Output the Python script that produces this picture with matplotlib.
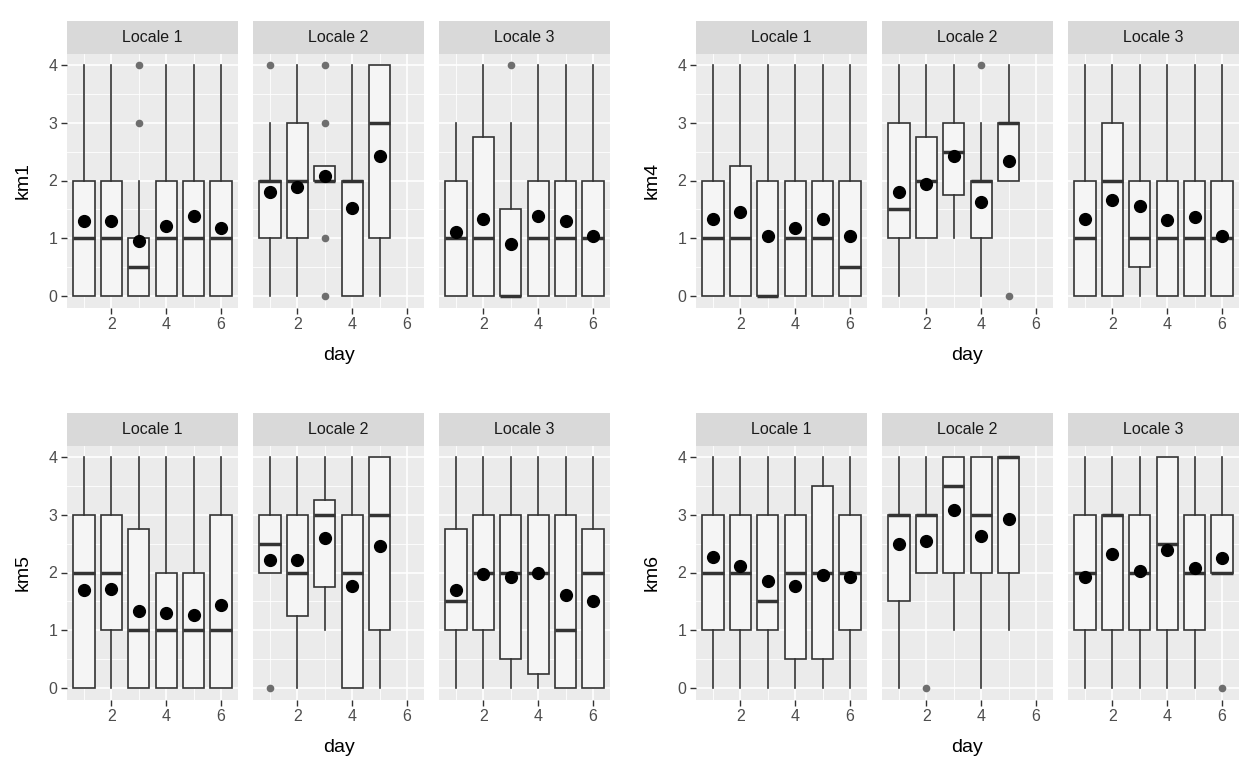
import numpy as np
import matplotlib
matplotlib.use("Agg")
import matplotlib.pyplot as plt
from matplotlib.ticker import FixedLocator

plt.rcParams['font.family'] = ['Liberation Sans', 'DejaVu Sans']

days = [1, 2, 3, 4, 5, 6]
locales = ['Locale 1', 'Locale 2', 'Locale 3']
variables = ['km1', 'km4', 'km5', 'km6']

# each box: whisker low, q1, median, q3, whisker high, mean
km1_loc1 = [(0, 0, 1, 2, 4, 1.29), (0, 0, 1, 2, 4, 1.29), (0, 0, 0.5, 1, 2, 0.96),
            (0, 0, 1, 2, 4, 1.21), (0, 0, 1, 2, 4, 1.39), (0, 0, 1, 2, 4, 1.17)]
km1_loc1_out = [[], [], [3, 4], [], [], []]
km1_loc2 = [(0, 1, 2, 2, 3, 1.80), (0, 1, 2, 3, 4, 1.88), (2, 2, 2, 2.25, 2.25, 2.08),
            (0, 0, 2, 2, 4, 1.52), (0, 1, 3, 4, 4, 2.43)]
km1_loc2_out = [[4], [], [0, 1, 3, 4], [], []]
km1_loc3 = [(0, 0, 1, 2, 3, 1.11), (0, 0, 1, 2.75, 4, 1.34), (0, 0, 0, 1.5, 3, 0.90),
            (0, 0, 1, 2, 4, 1.39), (0, 0, 1, 2, 4, 1.29), (0, 0, 1, 2, 4, 1.04)]
km1_loc3_out = [[], [], [4], [], [], []]

km4_loc1 = [(0, 0, 1, 2, 4, 1.34), (0, 0, 1, 2.25, 4, 1.46), (0, 0, 0, 2, 4, 1.04),
            (0, 0, 1, 2, 4, 1.17), (0, 0, 1, 2, 4, 1.34), (0, 0, 0.5, 2, 4, 1.04)]
km4_loc1_out = [[], [], [], [], [], []]
km4_loc2 = [(0, 1, 1.5, 3, 4, 1.80), (1, 1, 2, 2.75, 4, 1.94), (1, 1.75, 2.5, 3, 4, 2.42),
            (0, 1, 2, 2, 3, 1.62), (2, 2, 3, 3, 4, 2.33)]
km4_loc2_out = [[], [], [], [4], [0]]
km4_loc3 = [(0, 0, 1, 2, 4, 1.34), (0, 0, 2, 3, 4, 1.66), (0, 0.5, 1, 2, 4, 1.56),
            (0, 0, 1, 2, 4, 1.32), (0, 0, 1, 2, 4, 1.36), (0, 0, 1, 2, 4, 1.04)]
km4_loc3_out = [[], [], [], [], [], []]

km5_loc1 = [(0, 0, 2, 3, 4, 1.69), (0, 1, 2, 3, 4, 1.72), (0, 0, 1, 2.75, 4, 1.34),
            (0, 0, 1, 2, 4, 1.29), (0, 0, 1, 2, 4, 1.26), (0, 0, 1, 3, 4, 1.44)]
km5_loc1_out = [[], [], [], [], [], []]
km5_loc2 = [(2, 2, 2.5, 3, 4, 2.21), (0, 1.25, 2, 3, 4, 2.21), (1, 1.75, 3, 3.25, 4, 2.59),
            (0, 0, 2, 3, 4, 1.76), (0, 1, 3, 4, 4, 2.46)]
km5_loc2_out = [[0], [], [], [], []]
km5_loc3 = [(0, 1, 1.5, 2.75, 4, 1.69), (0, 1, 2, 3, 4, 1.97), (0, 0.5, 2, 3, 4, 1.92),
            (0, 0.25, 2, 3, 4, 2.00), (0, 0, 1, 3, 4, 1.61), (0, 0, 2, 2.75, 4, 1.51)]
km5_loc3_out = [[], [], [], [], [], []]

km6_loc1 = [(0, 1, 2, 3, 4, 2.27), (0, 1, 2, 3, 4, 2.11), (0, 1, 1.5, 3, 4, 1.85),
            (0, 0.5, 2, 3, 4, 1.77), (0, 0.5, 2, 3.5, 4, 1.95), (0, 1, 2, 3, 4, 1.92)]
km6_loc1_out = [[], [], [], [], [], []]
km6_loc2 = [(0, 1.5, 3, 3, 4, 2.49), (2, 2, 3, 3, 4, 2.55), (1, 2, 3.5, 4, 4, 3.09),
            (0, 2, 3, 4, 4, 2.64), (1, 2, 4, 4, 4, 2.92)]
km6_loc2_out = [[], [0], [], [], []]
km6_loc3 = [(0, 1, 2, 3, 4, 1.92), (0, 1, 3, 3, 4, 2.32), (0, 1, 2, 3, 4, 2.03),
            (0, 1, 2.5, 4, 4, 2.39), (0, 1, 2, 3, 4, 2.07), (2, 2, 2, 3, 4, 2.25)]
km6_loc3_out = [[], [], [], [], [], [0]]

y_ticks = [0, 1, 2, 3, 4]
x_ticks = [2, 4, 6]

panels = {
    'km1': [(km1_loc1, km1_loc1_out), (km1_loc2, km1_loc2_out), (km1_loc3, km1_loc3_out)],
    'km4': [(km4_loc1, km4_loc1_out), (km4_loc2, km4_loc2_out), (km4_loc3, km4_loc3_out)],
    'km5': [(km5_loc1, km5_loc1_out), (km5_loc2, km5_loc2_out), (km5_loc3, km5_loc3_out)],
    'km6': [(km6_loc1, km6_loc1_out), (km6_loc2, km6_loc2_out), (km6_loc3, km6_loc3_out)],
}

W, H = 1239, 766
fig = plt.figure(figsize=(W / 100, H / 100), dpi=100)


def px_axes(left, top, width, height):
    return fig.add_axes([left / W, 1 - (top + height) / H, width / W, height / H])


def draw_facet(ax, boxes, outliers, show_y):
    stats = []
    for (lo, q1, med, q3, hi, mean), out in zip(boxes, outliers):
        stats.append(dict(whislo=lo, q1=q1, med=med, q3=q3, whishi=hi, fliers=out))
    pos = days[:len(boxes)]
    ax.bxp(stats, positions=pos, widths=0.78, patch_artist=True, showcaps=False,
           boxprops=dict(facecolor='#F5F5F5', edgecolor='#333333', linewidth=1.2),
           medianprops=dict(color='#333333', linewidth=2.5, solid_capstyle='butt'),
           whiskerprops=dict(color='#333333', linewidth=1.2),
           flierprops=dict(marker='o', markerfacecolor='#6e6e6e', markeredgecolor='none',
                           markersize=5.5))
    ax.plot(pos, [b[5] for b in boxes], 'o', color='black', markersize=8.5, zorder=5)

    ax.set_facecolor('#EBEBEB')
    ax.set_xlim(0.38, 6.62)
    ax.set_ylim(-0.2, 4.2)
    ax.xaxis.set_major_locator(FixedLocator(x_ticks))
    ax.xaxis.set_minor_locator(FixedLocator([1, 3, 5]))
    ax.yaxis.set_major_locator(FixedLocator(y_ticks))
    ax.yaxis.set_minor_locator(FixedLocator([0.5, 1.5, 2.5, 3.5]))
    ax.set_axisbelow(True)
    ax.grid(which='major', color='white', linewidth=1.2)
    ax.grid(which='minor', color='white', linewidth=0.6)
    for s in ax.spines.values():
        s.set_visible(False)
    ax.tick_params(which='major', length=4, width=1, color='#333333',
                   labelsize=11.5, labelcolor='#4D4D4D', pad=3)
    ax.tick_params(which='minor', length=0)
    ax.set_xticklabels([str(t) for t in x_ticks])
    if show_y:
        ax.set_yticklabels([str(t) for t in y_ticks])
    else:
        ax.tick_params(axis='y', which='both', left=False, labelleft=False)


group_left = [67, 696]
row_top = [53.5, 445.5]
panel_h = 254
strip_h = 33
facet_w = 171
pitch = 186

for k, var in enumerate(variables):
    row, col = divmod(k, 2)
    for j, loc in enumerate(locales):
        left = group_left[col] + j * pitch
        ax = px_axes(left, row_top[row], facet_w, panel_h)
        boxes, outliers = panels[var][j]
        draw_facet(ax, boxes, outliers, j == 0)

        strip = px_axes(left, row_top[row] - strip_h, facet_w, strip_h)
        strip.set_facecolor('#D9D9D9')
        strip.set_xticks([])
        strip.set_yticks([])
        for s in strip.spines.values():
            s.set_visible(False)
        strip.text(0.5, 0.5, loc, ha='center', va='center', fontsize=11.5, color='#1A1A1A',
                   transform=strip.transAxes)

    # axis titles for the group
    mid_y = row_top[row] + panel_h / 2
    fig.text((group_left[col] - 44) / W, 1 - mid_y / H, var, rotation=90,
             ha='center', va='center', fontsize=14)
    fig.text((group_left[col] + pitch + facet_w / 2) / W,
             1 - (row_top[row] + panel_h + 48) / H, 'day',
             ha='center', va='center', fontsize=14)

fig.savefig('out.png', dpi=100)
